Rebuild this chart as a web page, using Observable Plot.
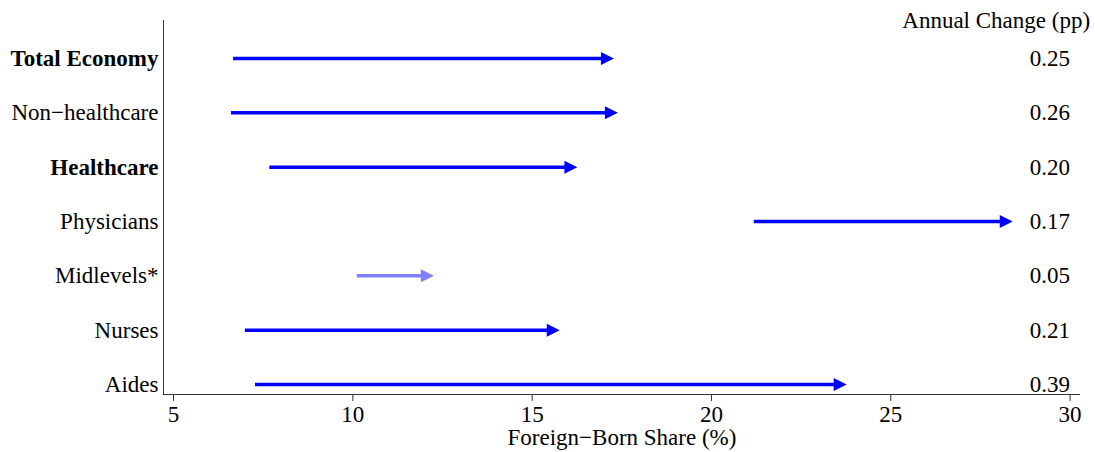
<!DOCTYPE html>
<html>
<head>
<meta charset="utf-8">
<script src="https://cdn.jsdelivr.net/npm/d3@7"></script>
<script src="https://cdn.jsdelivr.net/npm/@observablehq/plot@0.6"></script>
<style>
  html, body { margin: 0; padding: 0; background: #fff; }
  #chart { width: 1095px; height: 452px; }
</style>
</head>
<body>
<div id="chart"></div>
<script>
// ---- data ----
const categories = ["Total Economy", "Non\u2212healthcare", "Healthcare", "Physicians", "Midlevels*", "Nurses", "Aides"];
const startShare = [6.66, 6.60, 7.67, 21.18, 10.11, 6.99, 7.27];
const endShare   = [17.28, 17.39, 16.26, 28.40, 12.26, 15.77, 23.77];
const annualChange = ["0.25", "0.26", "0.20", "0.17", "0.05", "0.21", "0.39"];
const boldRows = ["Total Economy", "Healthcare"];
const fadedRows = ["Midlevels*"];
const xTicks = [5, 10, 15, 20, 25, 30];
const headerText = "Annual Change (pp)";
const xLabel = "Foreign\u2212Born Share (%)";

// ---- build rows ----
const n = categories.length;
const rows = categories.map((c, i) => ({
  cat: c,
  pos: n - i,
  start: startShare[i],
  end: endShare[i],
  change: annualChange[i],
  bold: boldRows.includes(c),
  color: fadedRows.includes(c) ? "#8080ff" : "#0000ff"
}));

const xDomain = [4.72, 30.29];
const yDomain = [0.816, 7.7];

// right-pointing filled triangle with its tip at the anchor point
const arrowHead = {
  draw(ctx, size) {
    const r = Math.sqrt(size / Math.PI);
    ctx.moveTo(0, 0);
    ctx.lineTo(-2 * r, -r);
    ctx.lineTo(-2 * r, r);
    ctx.closePath();
  }
};

const font = "'Liberation Serif', 'Times New Roman', serif";
const fs = 23;

const chart = Plot.plot({
  width: 1095,
  height: 452,
  marginTop: 20,
  marginBottom: 58,
  marginLeft: 163,
  marginRight: 15,
  style: { fontFamily: font, fontSize: fs + "px", color: "#000", background: "#fff" },
  x: { domain: xDomain },
  y: { domain: yDomain, axis: null },
  color: { type: "identity" },
  marks: [
    Plot.ruleX([xDomain[0]], { stroke: "#333", strokeWidth: 1 }),
    Plot.ruleY([yDomain[0]], { stroke: "#333", strokeWidth: 1 }),
    Plot.axisX({ ticks: xTicks, tickSize: 7, tickPadding: 4, fontSize: fs, label: null, stroke: "#333" }),
    Plot.text([xLabel], { frameAnchor: "bottom", dy: 43, fontSize: fs, lineAnchor: "middle" }),
    Plot.arrow(rows, {
      x1: "start", x2: "end", y1: "pos", y2: "pos",
      stroke: "color", strokeWidth: 3.5, headLength: 0, insetEnd: 6,
      strokeLinecap: "butt"
    }),
    Plot.dot(rows, { x: "end", y: "pos", symbol: arrowHead, r: 6.5, fill: "color", stroke: null }),
    Plot.text(rows.filter(d => d.bold), {
      x: xDomain[0], y: "pos", text: "cat", textAnchor: "end", dx: -5,
      fontWeight: "bold", fontSize: fs, lineAnchor: "middle"
    }),
    Plot.text(rows.filter(d => !d.bold), {
      x: xDomain[0], y: "pos", text: "cat", textAnchor: "end", dx: -5,
      fontSize: fs, lineAnchor: "middle"
    }),
    Plot.text(rows, {
      x: 30, y: "pos", text: "change", textAnchor: "end", fontSize: fs, lineAnchor: "middle"
    }),
    Plot.text([headerText], {
      x: 30, y: yDomain[1], textAnchor: "end", dx: 20, fontSize: fs, lineAnchor: "middle"
    })
  ]
});

document.getElementById("chart").appendChild(chart);
</script>
</body>
</html>
